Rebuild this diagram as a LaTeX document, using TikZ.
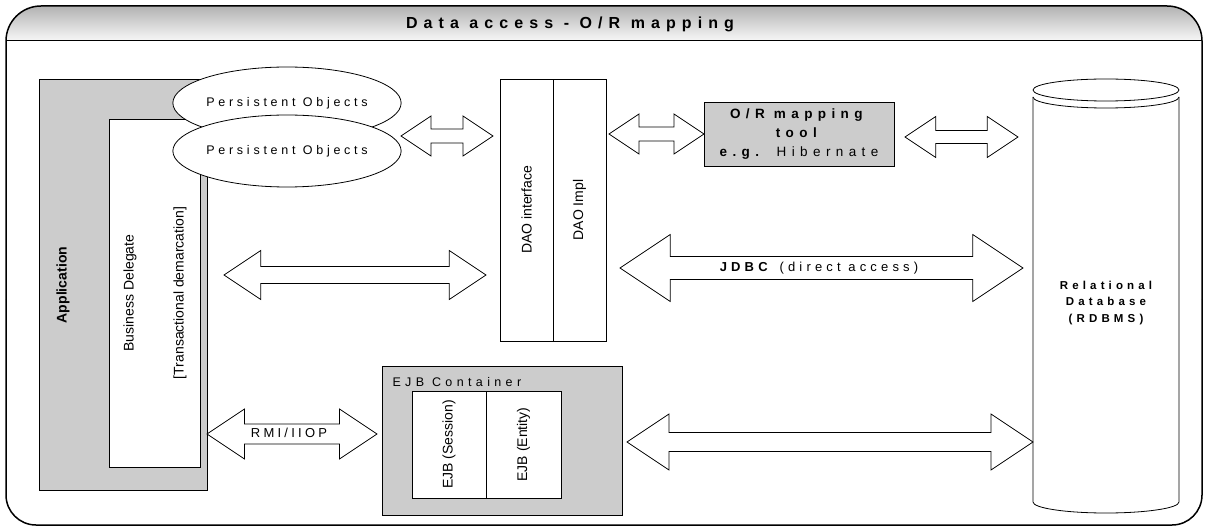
\documentclass[tikz,border=0pt]{standalone}
\usepackage{fontspec}
\setmainfont{Liberation Sans}
\usetikzlibrary{shapes.geometric, calc}

% block arrow with two heads: west tip, east tip, half shaft, half head
\newcommand{\twoway}[4]{%
  \draw[line width=0.8pt, fill=white, line join=miter]
    (#1) -- ++(1.5*#4,-#4) -- ++(0,#4-#3)
    -- ($(#2)+(-1.5*#4,-#3)$) -- ++(0,#3-#4)
    -- (#2) -- ++(-1.5*#4,#4) -- ++(0,#3-#4)
    -- ($(#1)+(1.5*#4,#3)$) -- ++(0,#4-#3) -- cycle;}

\tikzset{
  graybox/.style={draw, line width=0.8pt, fill=black!20, inner sep=0pt},
  whitebox/.style={draw, line width=0.8pt, fill=white, inner sep=0pt},
  vtext/.style={rotate=90, font=\fontsize{14}{16}\selectfont},
  spaced/.style={font=\fontsize{#1}{#1}\selectfont\addfontfeature{LetterSpace=30}},
  objs/.style={ellipse, draw, line width=0.8pt, fill=white, inner sep=0pt,
    minimum width=225pt, minimum height=72pt, spaced=12.5}
}

\begin{document}
\begin{tikzpicture}[x=1pt, y=-1pt]
  \useasboundingbox (0,0) rectangle (1208,529);

  % frame and title bar
  \shade[top color=black!30, bottom color=black!3, rounded corners=35pt]
    (6,41) -- (6,6) -- (1202,6) -- (1202,41);
  \draw[line width=1pt] (6,41) -- (1202,41);
  \draw[line width=1.5pt, rounded corners=35pt] (6,300) -- (6,6) -- (1202,6) -- (1202,300);
  \draw[line width=1.5pt, rounded corners=30pt] (6,300) -- (6,525) -- (1202,525) -- (1202,300);
  \node[font=\bfseries\fontsize{16}{18}\selectfont\addfontfeature{LetterSpace=38}] (title) at (570,24) {Data access - O/R mapping};

  % application side
  \node[graybox, minimum width=168pt, minimum height=411pt] (app) at (123,284.5) {};
  \node[vtext, font=\bfseries\fontsize{14}{16}\selectfont] (applbl) at (63,285) {Application};
  \node[whitebox, minimum width=91pt, minimum height=348pt] (bd) at (154.5,293) {};
  \node[vtext] (bdlbl) at (130,293) {Business Delegate};
  \node[vtext] (txlbl) at (180,293) {[Transactional demarcation]};

  \node[objs] (po1) at (287,103) {Persistent Objects};
  \node[objs] (po2) at (287,151) {Persistent Objects};

  % DAO layer
  \node[whitebox, vtext, minimum width=262pt, minimum height=53pt] (daoif) at (526.5,210) {DAO interface};
  \node[whitebox, vtext, minimum width=262pt, minimum height=53pt] (daoimpl) at (579.5,210) {DAO Impl};

  % O/R mapping tool
  \node[graybox, minimum width=190pt, minimum height=64pt, align=center,
    font=\fontsize{13.5}{19}\selectfont\addfontfeature{LetterSpace=40}] (orm) at (799,134)
    {\textbf{O/R mapping}\\\textbf{tool}\\\textbf{e.g.} Hibernate};

  % EJB container
  \node[graybox, minimum width=240pt, minimum height=149pt] (ejbc) at (502,440.5) {};
  \node[anchor=west, font=\fontsize{12.5}{12.5}\selectfont\addfontfeature{LetterSpace=35}] (ejblbl) at (389,382) {EJB Container};
  \node[whitebox, vtext, minimum width=107pt, minimum height=74pt] (sess) at (449,444.5) {EJB (Session)};
  \node[whitebox, vtext, minimum width=107pt, minimum height=75pt] (ent) at (523.5,444.5) {EJB (Entity)};

  % database
  \draw[line width=0.8pt, fill=white] (1033,97) -- (1033,502)
    arc[start angle=180, end angle=0, x radius=73, y radius=11] -- (1179,97);
  \draw[line width=0.8pt, fill=white] (1033,97)
    arc[start angle=180, end angle=0, x radius=73, y radius=11];
  \draw[line width=0.8pt, fill=white] (1106,90) ellipse [x radius=73, y radius=11];
  \node[align=center, font=\bfseries\fontsize{11.5}{16.5}\selectfont\addfontfeature{LetterSpace=36}] (db) at (1106,303)
    {Relational\\Database\\(RDBMS)};

  % connectors
  \coordinate (objL) at (401,136);  \coordinate (objR) at (493,136);
  \coordinate (bdL) at (224,275);   \coordinate (bdR) at (486,275);
  \coordinate (ormL) at (609,134);  \coordinate (ormR) at (704,134);
  \coordinate (dbL) at (905,137);   \coordinate (dbR) at (1018,137);
  \coordinate (jdbcL) at (620,268); \coordinate (jdbcR) at (1023,268);
  \coordinate (rmiL) at (207,434);  \coordinate (rmiR) at (377,434);
  \coordinate (ejbL) at (627,442);  \coordinate (ejbR) at (1033,442);

  \twoway{objL}{objR}{7}{20}
  \twoway{bdL}{bdR}{8.5}{24.5}
  \twoway{ormL}{ormR}{7}{20}
  \twoway{dbL}{dbR}{6.5}{20.5}
  \twoway{jdbcL}{jdbcR}{11.5}{33.5}
  \twoway{rmiL}{rmiR}{10}{25}
  \twoway{ejbL}{ejbR}{9.5}{28}

  \node[font=\fontsize{13}{13}\selectfont\addfontfeature{LetterSpace=32}] (jdbc) at (819,268)
    {\textbf{JDBC} (direct access)};
  \node[font=\fontsize{13}{13}\selectfont\addfontfeature{LetterSpace=25}] (rmi) at (289,433) {RMI/IIOP};
\end{tikzpicture}
\end{document}
